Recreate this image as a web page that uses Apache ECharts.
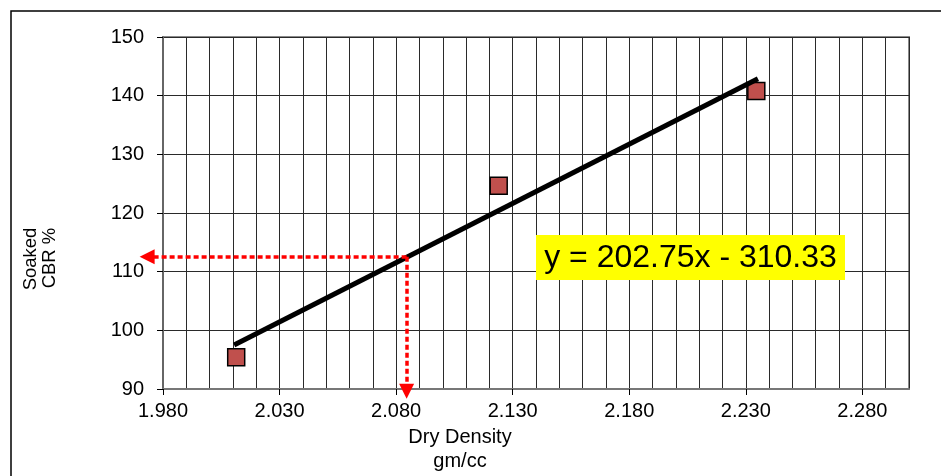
<!DOCTYPE html>
<html>
<head>
<meta charset="utf-8">
<style>
  html, body { margin: 0; padding: 0; background: #ffffff; }
  #chart { width: 941px; height: 476px; }
</style>
<script src="https://cdn.jsdelivr.net/npm/echarts@6/dist/echarts.min.js"></script>
</head>
<body>
<div id="chart"></div>
<script>
// ---- data ----
const dryDensity = [2.0114, 2.124, 2.2345];      // gm/cc
const soakedCBR  = [95.4, 124.65, 140.8];        // %
const trendX     = [2.0105, 2.2352];             // trendline ends
const trendY     = [97.5, 142.9];
const readX      = 2.0845;                       // red guide lines
const readY      = 112.56;
const arrowLeftX = 1.9732;
const arrowDownY = 89.6;
const xTickLabels = [1.98, 2.03, 2.08, 2.13, 2.18, 2.23, 2.28];
const yTickLabels = [90, 100, 110, 120, 130, 140, 150];
const equationText = 'y = 202.75x - 310.33';
const xTitle = ['Dry Density', 'gm/cc'];
const yTitle = ['Soaked', 'CBR %'];

const font = 'Arial, "Liberation Sans", sans-serif';
const chart = echarts.init(document.getElementById('chart'), null, { renderer: 'canvas' });

const gridLine = { color: '#2a2a2a', width: 1 };

const option = {
  animation: false,
  backgroundColor: '#ffffff',
  grid: {
    left: 163, right: 32, top: 37, bottom: 87,
    show: true, borderColor: '#8a8a8a', borderWidth: 2, backgroundColor: 'transparent'
  },
  xAxis: [
    { // fine grid every 0.01
      type: 'value', min: 1.98, max: 2.30, interval: 0.01, position: 'bottom',
      axisLine: { show: false }, axisTick: { show: false }, axisLabel: { show: false },
      splitLine: { show: true, lineStyle: gridLine }
    },
    { // labelled axis
      type: 'value', min: 1.98, max: 2.30, position: 'bottom', offset: 0,
      axisLine: { show: true, onZero: false, lineStyle: { color: '#777', width: 2 } },
      axisTick: { show: true, length: 6, customValues: xTickLabels, lineStyle: { color: '#000', width: 1 } },
      axisLabel: {
        customValues: xTickLabels, margin: 12,
        fontFamily: font, fontSize: 20, color: '#000',
        formatter: v => Number(v).toFixed(3)
      },
      splitLine: { show: false }
    }
  ],
  yAxis: {
    type: 'value', min: 90, max: 150, interval: 10,
    axisLine: { show: true, onZero: false, lineStyle: { color: '#666', width: 2 } },
    axisTick: { show: true, length: 6, lineStyle: { color: '#000', width: 1 } },
    axisLabel: { margin: 19, fontFamily: font, fontSize: 20, color: '#000' },
    splitLine: { show: true, lineStyle: gridLine }
  },
  series: [
    {
      type: 'scatter', xAxisIndex: 0,
      data: dryDensity.map((x, i) => [x, soakedCBR[i]]),
      symbol: 'rect', symbolSize: 17,
      itemStyle: { color: '#C0504D', borderColor: '#000', borderWidth: 1.5, opacity: 1 },
      z: 3
    },
    {
      type: 'line', xAxisIndex: 0,
      data: trendX.map((x, i) => [x, trendY[i]]),
      showSymbol: false, symbol: 'none',
      lineStyle: { color: '#000', width: 5 },
      z: 4
    },
    {
      type: 'lines', coordinateSystem: 'cartesian2d', xAxisIndex: 0, clip: false,
      symbol: ['none', 'triangle'], symbolSize: [15, 15],
      lineStyle: { color: '#FF0000', width: 3.5, type: [5, 3], opacity: 1 },
      data: [
        { coords: [[readX, readY], [arrowLeftX, readY]] },
        { coords: [[readX, readY], [readX, arrowDownY]] }
      ],
      z: 5
    }
  ],
  graphic: [
    { type: 'rect', shape: { x: 11, y: 11, width: 960, height: 500 }, style: { fill: 'none', stroke: '#000', lineWidth: 1.5 }, silent: true },
    { type: 'rect', shape: { x: 536, y: 235, width: 309, height: 45 }, style: { fill: '#FFFF00' }, z: 10 },
    { type: 'text', x: 690.5, y: 258, z: 11,
      style: { text: equationText, fontFamily: font, fontSize: 32, fill: '#000', align: 'center', verticalAlign: 'middle' } },
    { type: 'text', x: 460, y: 437, style: { text: xTitle[0], fontFamily: font, fontSize: 20, fill: '#000', align: 'center', verticalAlign: 'middle' } },
    { type: 'text', x: 460, y: 461, style: { text: xTitle[1], fontFamily: font, fontSize: 20, fill: '#000', align: 'center', verticalAlign: 'middle' } },
    { type: 'text', x: 31, y: 259, rotation: Math.PI / 2, style: { text: yTitle[0], fontFamily: font, fontSize: 18.5, fill: '#000', align: 'center', verticalAlign: 'middle' } },
    { type: 'text', x: 50, y: 258, rotation: Math.PI / 2, style: { text: yTitle[1], fontFamily: font, fontSize: 18.5, fill: '#000', align: 'center', verticalAlign: 'middle' } }
  ]
};
chart.setOption(option);
</script>
</body>
</html>
